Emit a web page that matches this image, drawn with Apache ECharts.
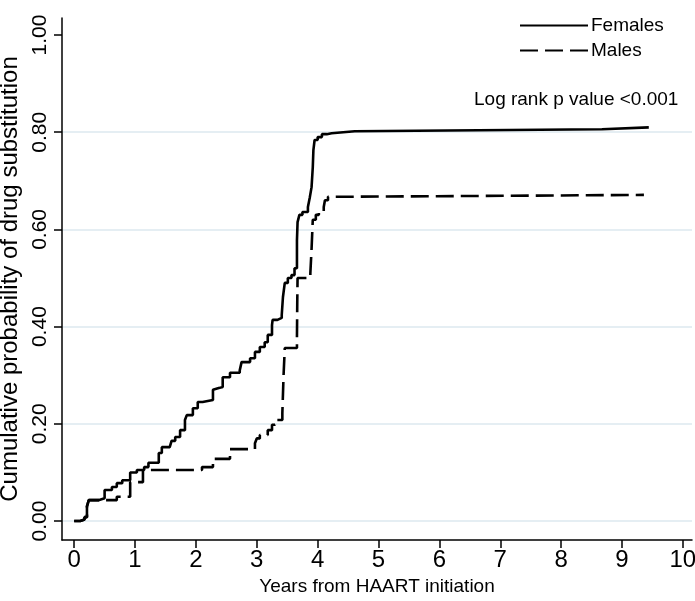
<!DOCTYPE html>
<html>
<head>
<meta charset="utf-8">
<title>Cumulative probability of drug substitution</title>
<script src="https://cdn.jsdelivr.net/npm/echarts@6/dist/echarts.min.js"></script>
<style>
    * { margin: 0; padding: 0; }
    body { background: #fff; }
</style>
</head>
<body>
<div id="km" style="width: 695px; height: 601px;"></div>
<script>
    // Kaplan-Meier curves: [years, cumulative probability]
    const females = [
        [0, 0], [0.1, 0.003], [0.17, 0.008], [0.21, 0.03], [0.24, 0.043], [0.4, 0.047],
        [0.5, 0.064], [0.62, 0.07], [0.7, 0.078], [0.79, 0.084], [0.92, 0.1], [1.03, 0.105],
        [1.15, 0.111], [1.22, 0.12], [1.39, 0.14], [1.44, 0.152], [1.57, 0.156], [1.6, 0.165],
        [1.66, 0.173], [1.74, 0.187], [1.82, 0.208], [1.85, 0.218], [1.95, 0.232], [2.03, 0.245],
        [2.11, 0.249], [2.28, 0.27], [2.31, 0.274], [2.39, 0.276], [2.44, 0.296], [2.56, 0.305],
        [2.72, 0.31], [2.75, 0.327], [2.89, 0.335], [2.97, 0.348], [3.05, 0.358], [3.13, 0.368],
        [3.18, 0.383], [3.25, 0.403], [3.26, 0.414], [3.34, 0.418], [3.41, 0.424], [3.43, 0.461],
        [3.46, 0.49], [3.51, 0.5], [3.57, 0.506], [3.62, 0.52], [3.66, 0.578], [3.67, 0.615],
        [3.7, 0.63], [3.75, 0.636], [3.84, 0.646], [3.87, 0.665], [3.9, 0.687], [3.92, 0.728],
        [3.93, 0.763], [3.95, 0.784], [4.0, 0.79], [4.07, 0.796], [4.15, 0.798], [4.23, 0.802],
        [4.61, 0.806], [8.67, 0.81], [9.44, 0.81]
    ];
    const males = [
        [0, 0], [0.1, 0.003], [0.17, 0.008], [0.21, 0.03], [0.24, 0.043], [0.7, 0.05],
        [0.92, 0.08], [1.13, 0.105], [2.1, 0.111], [2.28, 0.128], [2.56, 0.148], [2.97, 0.16],
        [3.0, 0.17], [3.05, 0.177], [3.18, 0.187], [3.25, 0.198], [3.3, 0.208], [3.42, 0.222],
        [3.44, 0.3], [3.46, 0.356], [3.66, 0.38], [3.665, 0.45], [3.67, 0.5], [3.88, 0.51],
        [3.9, 0.56], [3.92, 0.62], [3.97, 0.63], [4.02, 0.636], [4.1, 0.646], [4.12, 0.66],
        [4.17, 0.667], [4.2, 0.671], [9.36, 0.672]
    ];
    const xTicks = [0, 1, 2, 3, 4, 5, 6, 7, 8, 9, 10];
    const yTicks = [0, 0.2, 0.4, 0.6, 0.8, 1.0];
    const seriesNames = ['Females', 'Males'];
    const pValueText = 'Log rank p value <0.001';

    const font = "'Liberation Sans', Arial, sans-serif";

    let option = {
        backgroundColor: '#fff',
        animation: false,
        title: {
            text: pValueText,
            left: 474,
            top: 90,
            padding: 0,
            textStyle: { fontFamily: font, fontSize: 19, fontWeight: 'normal', color: '#000' }
        },
        legend: {
            data: seriesNames,
            orient: 'vertical',
            left: 519,
            top: 16,
            padding: 0,
            itemWidth: 68,
            itemHeight: 14,
            itemGap: 6,
            itemStyle: { opacity: 0 },
            textStyle: { fontFamily: font, fontSize: 19, color: '#000', padding: [0, 0, 0, -2] }
        },
        grid: { left: 62, right: 3, top: 18, bottom: 61, containLabel: false, outerBoundsMode: 'none' },
        xAxis: {
            type: 'value',
            min: -0.2,
            max: 10.15,
            name: 'Years from HAART initiation',
            nameLocation: 'middle',
            nameGap: 30,
            nameTextStyle: { fontFamily: font, fontSize: 19, color: '#000' },
            axisLine: { onZero: false, lineStyle: { color: '#000', width: 1.5 } },
            axisTick: { customValues: xTicks, length: 8, lineStyle: { color: '#000', width: 1.5 } },
            axisLabel: { customValues: xTicks, margin: 8, fontFamily: font, fontSize: 24, color: '#000' },
            splitLine: { show: false }
        },
        yAxis: {
            type: 'value',
            min: -0.039,
            max: 1.035,
            name: 'Cumulative probability of drug substitution',
            nameLocation: 'middle',
            nameGap: 25,
            nameTextStyle: { fontFamily: font, fontSize: 24, color: '#000' },
            axisLine: { onZero: false, lineStyle: { color: '#000', width: 1.5 } },
            axisTick: { customValues: yTicks, length: 8, lineStyle: { color: '#000', width: 1.5 } },
            axisLabel: {
                customValues: yTicks,
                rotate: 90,
                margin: 11,
                fontFamily: font,
                fontSize: 21,
                color: '#000',
                formatter: function (v) { return v.toFixed(2); }
            },
            splitLine: {
                show: true,
                lineStyle: { color: ['#dde9ef', '#dde9ef', '#dde9ef', '#dde9ef', '#dde9ef', 'rgba(0,0,0,0)'], width: 1.5 }
            }
        },
        series: [
            {
                name: seriesNames[0],
                type: 'line',
                step: 'end',
                symbol: 'none',
                data: females,
                lineStyle: { color: '#000', width: 2.6 },
                itemStyle: { color: '#000' }
            },
            {
                name: seriesNames[1],
                type: 'line',
                step: 'end',
                symbol: 'none',
                data: males,
                lineStyle: { color: '#000', width: 2.6, type: [18, 7] },
                itemStyle: { color: '#000' }
            }
        ]
    };

    let myChart = echarts.init(document.getElementById('km'));
    myChart.setOption(option);
</script>
</body>
</html>
